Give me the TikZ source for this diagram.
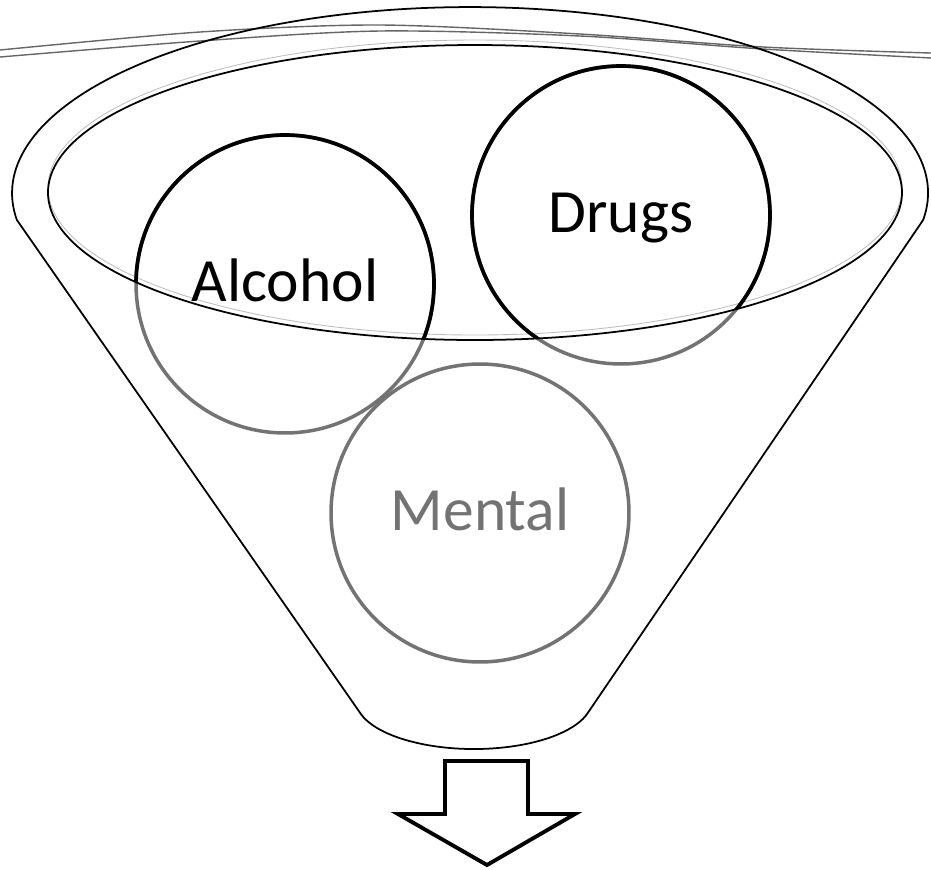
\documentclass[tikz,border=0pt]{standalone}
\usepackage{fontspec}
\setmainfont{Carlito}
\usetikzlibrary{positioning}
\begin{document}
\begin{tikzpicture}[x=0.02cm, y=-0.02cm,
    rim/.style={line width=1pt},
    smear/.style={black!60, line width=0.8pt},
    ball/.style={circle, draw=black!55, line width=2pt, minimum size=5.96cm,
      inner sep=0pt, font=\fontsize{35}{42}\selectfont,
      text height=26pt, text depth=6pt}]
    \useasboundingbox (0,0) rectangle (931,870);
    \draw [smear] plot [smooth] coordinates {(0,50) (200,32) (380,25) (580,34) (763,47) (931,53)};
    \draw [smear] plot [smooth] coordinates {(0,57) (200,41) (380,31) (580,36) (763,49) (931,58)};
    \draw [rim] (923.2,219.9) arc [start angle=8.3, end angle=-188.3, x radius=458, y radius=186]
      -- (360,712.7) arc [start angle=165, end angle=15, x radius=118, y radius=49] -- cycle;
    \draw [black!25, line width=0.5pt] (475,187.5) ellipse [x radius=427, y radius=147.5];
    \node [ball] (alc) at (285,284)                       {Alcohol};
    \node [ball] (drg) at ([shift={(336,-69)}]  alc)      {Drugs};
    \node [ball, text=black!55] (men) at ([shift={(195,229)}] alc) {Mental};
    \begin{scope}
      \clip (475,192.5) ellipse [x radius=427, y radius=147.5];
      \foreach \n in {alc,drg}
        \draw [line width=2.1pt] (\n) circle [radius=149];
    \end{scope}
    \draw [rim] (475,192.5) ellipse [x radius=427, y radius=147.5];
    \draw [line width=2.2pt] (445,761) -- (528,761) -- (528,814) -- (575,814)
      -- (487,865) -- (398,814) -- (445,814) -- cycle;
  \end{tikzpicture}
\end{document}
